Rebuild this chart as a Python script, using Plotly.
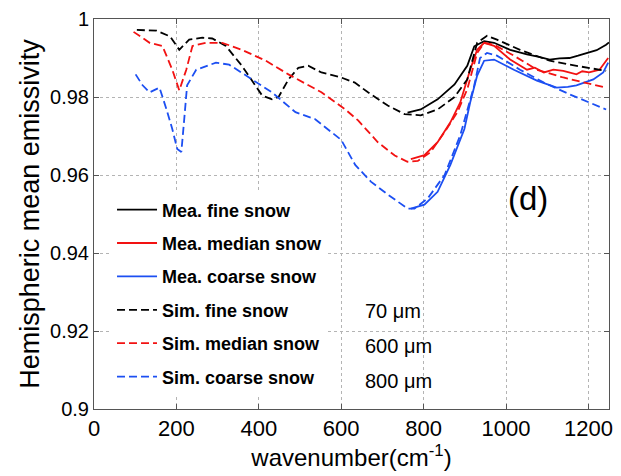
import plotly.graph_objects as go

# Measured spectra (solid lines)
mea_fine_x = [761, 793, 834, 875, 906, 923, 947, 971, 1010, 1051, 1080, 1106, 1130, 1154, 1175, 1195, 1220, 1243, 1250]
mea_fine_y = [0.9760, 0.9768, 0.9794, 0.9832, 0.9880, 0.9930, 0.9943, 0.9939, 0.9921, 0.9909, 0.9903, 0.9896, 0.9899, 0.9900, 0.9906, 0.9913, 0.9920, 0.9934, 0.9940]

mea_median_x = [769, 802, 834, 865, 889, 913, 930, 947, 971, 1010, 1051, 1070, 1092, 1115, 1139, 1171, 1185, 1202, 1227, 1248]
mea_median_y = [0.9641, 0.9651, 0.9684, 0.9735, 0.9786, 0.9870, 0.9921, 0.9939, 0.9931, 0.9896, 0.9870, 0.9875, 0.9863, 0.9870, 0.9867, 0.9858, 0.9866, 0.9863, 0.9870, 0.9900]

mea_coarse_x = [769, 802, 834, 865, 899, 913, 930, 947, 971, 1019, 1075, 1123, 1150, 1171, 1212, 1236, 1248]
mea_coarse_y = [0.9514, 0.9524, 0.9557, 0.9626, 0.9718, 0.9786, 0.9855, 0.9893, 0.9896, 0.9870, 0.9842, 0.9824, 0.9826, 0.9830, 0.9845, 0.9863, 0.9888]

# Simulated spectra (dashed lines)
sim_fine_x = [104, 152, 185, 207, 231, 263, 287, 320, 359, 392, 408, 432, 448, 472, 496, 520, 552, 600, 633, 665, 713, 754, 793, 834, 875, 906, 930, 954, 978, 1034, 1106, 1154, 1195, 1243]
sim_fine_y = [0.9972, 0.9970, 0.9955, 0.9921, 0.9947, 0.9952, 0.9950, 0.9931, 0.9880, 0.9830, 0.9804, 0.9794, 0.9800, 0.9845, 0.9875, 0.9880, 0.9863, 0.9850, 0.9837, 0.9812, 0.9778, 0.9756, 0.9753, 0.9768, 0.9800, 0.9845, 0.9939, 0.9957, 0.9947, 0.9921, 0.9893, 0.9883, 0.9875, 0.9867]

sim_median_x = [96, 135, 166, 190, 207, 224, 239, 272, 311, 359, 417, 472, 552, 610, 641, 689, 730, 761, 786, 817, 851, 882, 906, 930, 947, 971, 1019, 1075, 1139, 1195, 1243]
sim_median_y = [0.9967, 0.9939, 0.9931, 0.9870, 0.9817, 0.9870, 0.9931, 0.9939, 0.9939, 0.9921, 0.9893, 0.9858, 0.9812, 0.9768, 0.9740, 0.9684, 0.9650, 0.9634, 0.9636, 0.9659, 0.9710, 0.9761, 0.9820, 0.9913, 0.9939, 0.9934, 0.9906, 0.9870, 0.9850, 0.9837, 0.9824]

sim_coarse_x = [101, 118, 135, 159, 176, 190, 202, 212, 219, 226, 248, 296, 328, 369, 432, 489, 537, 600, 634, 672, 713, 761, 778, 810, 851, 889, 923, 937, 954, 978, 1034, 1092, 1154, 1202, 1243]
sim_coarse_y = [0.9858, 0.9830, 0.9812, 0.9824, 0.9768, 0.9718, 0.9667, 0.9659, 0.9743, 0.9830, 0.9870, 0.9888, 0.9883, 0.9855, 0.9812, 0.9761, 0.9743, 0.9690, 0.9626, 0.9583, 0.9550, 0.9514, 0.9514, 0.9540, 0.9600, 0.9702, 0.9830, 0.9900, 0.9913, 0.9906, 0.9870, 0.9837, 0.9807, 0.9786, 0.9768]

grain_sizes = ["70 \u03bcm", "600 \u03bcm", "800 \u03bcm"]
y_ticks = [0.9, 0.92, 0.94, 0.96, 0.98, 1.0]
y_tick_text = ["0.9", "0.92", "0.94", "0.96", "0.98", "1"]
x_ticks = [0, 200, 400, 600, 800, 1000, 1200]

FONT = "Liberation Sans, Arial, Helvetica, sans-serif"
BLACK, RED, BLUE = "#000000", "#f21212", "#1c4ff2"
DASH = "8px,4px"

series = [
    ("Mea. fine snow", mea_fine_x, mea_fine_y, BLACK, "solid"),
    ("Mea. median snow", mea_median_x, mea_median_y, RED, "solid"),
    ("Mea. coarse snow", mea_coarse_x, mea_coarse_y, BLUE, "solid"),
    ("Sim. fine snow", sim_fine_x, sim_fine_y, BLACK, DASH),
    ("Sim. median snow", sim_median_x, sim_median_y, RED, DASH),
    ("Sim. coarse snow", sim_coarse_x, sim_coarse_y, BLUE, DASH),
]

fig = go.Figure()
for i, (name, xs, ys, color, dash) in enumerate(series):
    fig.add_trace(go.Scatter(
        x=xs, y=ys, name=name, mode="lines", legendgroup=f"g{i}",
        line=dict(color=color, width=1.8, dash=dash),
    ))

# Grain-size labels next to the simulated entries
for i, txt in enumerate(grain_sizes):
    fig.add_annotation(x=0.523, y=0.217 - i * 0.089, xref="paper", yref="paper",
                       text=txt, showarrow=False, xanchor="left",
                       font=dict(family=FONT, size=20, color="black"))

fig.add_annotation(x=0.8, y=0.54, xref="paper", yref="paper", text="(d)",
                   showarrow=False, xanchor="left",
                   font=dict(family=FONT, size=33, color="black"))

axis_common = dict(
    showline=True, linecolor="#555555", linewidth=1, mirror="ticks",
    ticks="inside", ticklen=5, tickcolor="#555555",
    showgrid=True, gridcolor="#b4b4b4", griddash="dot", gridwidth=1,
    zeroline=False,
)

fig.update_xaxes(range=[0, 1250], tickvals=x_ticks, **axis_common,
                 tickfont=dict(family=FONT, size=22, color="black"),
                 title=dict(text="wavenumber(cm<sup>-1</sup>)", standoff=3,
                            font=dict(family=FONT, size=24, color="black")))
fig.update_yaxes(range=[0.9, 1.0], tickvals=y_ticks, ticktext=y_tick_text, **axis_common,
                 tickfont=dict(family=FONT, size=20, color="black"),
                 title=dict(text="Hemispheric mean emissivity", standoff=2,
                            font=dict(family=FONT, size=27, color="black")))

fig.update_layout(
    width=621, height=476,
    margin=dict(l=94, r=8, t=16, b=67),
    paper_bgcolor="white", plot_bgcolor="white",
    legend=dict(
        x=0.035, y=0.558, xanchor="left", yanchor="top",
        bgcolor="white", borderwidth=0,
        traceorder="grouped", tracegroupgap=7,
        itemwidth=40,
        font=dict(family=FONT, size=18, color="black", weight="bold"),
    ),
)

fig.write_html("out.html")
